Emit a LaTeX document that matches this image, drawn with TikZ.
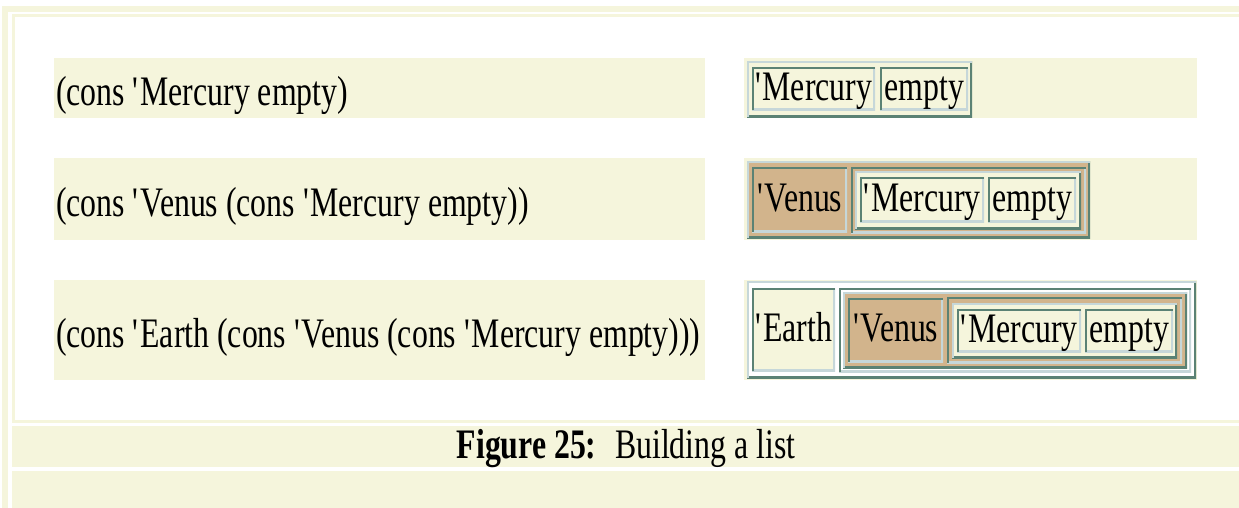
\documentclass[tikz,border=0pt]{standalone}
\usepackage{fontspec}
\setmainfont{Liberation Serif}[FakeStretch=0.757]

\definecolor{beige}{HTML}{F5F5DC}
\definecolor{tan}{HTML}{D2B48C}
\definecolor{rimdark}{HTML}{5B8274}
\definecolor{rimlight}{HTML}{C6D7D9}
\newcommand{\apos}{\textquotesingle}

\begin{document}
\begin{tikzpicture}[
	x=1pt, y=-1pt,
	every node/.style={
		font=\fontsize{42}{48}\selectfont,
		inner sep=0pt,
		text height=30pt,
		text depth=7pt,
		anchor=north west
	},
	sz/.style 2 args={minimum width=#1pt, minimum height=#2pt},
	band/.style={fill=beige},
	inset/.style={path picture={
		\draw[rimlight, line width=4pt] (path picture bounding box.south west) -| (path picture bounding box.north east);
		\draw[rimdark, line width=4pt] (path picture bounding box.south west) |- (path picture bounding box.north east);
	}},
	outset/.style={path picture={
		\draw[rimdark, line width=4pt] (path picture bounding box.south west) -| (path picture bounding box.north east);
		\draw[rimlight, line width=4pt] (path picture bounding box.south west) |- (path picture bounding box.north east);
	}}
	]
	\useasboundingbox (0,0) rectangle (1239,508);
	% page frame
	\fill[beige] (2,6) rectangle (1239,12);
	\fill[beige] (2,6) rectangle (8,508);
	\draw[beige, line width=2.5pt] (1239,15.5) -| (13.25,421.5) -- (1239,421.5);
	\fill[beige] (12,426) rectangle (1239,467);
	\fill[beige] (12,471) rectangle (1239,508);
	\node[anchor=center] (caption) at (626,446.5) {\textbf{Figure 25:}~ Building a list};
	% expressions and backgrounds
	\foreach \rowy/\rowh/\txt [count=\i] in {58/60/{(cons \apos Mercury empty)},
		158/82/{(cons \apos Venus (cons \apos Mercury empty))},
		280/100/{(cons \apos Earth (cons \apos Venus (cons \apos Mercury empty)))}}
	{
		\node[band, sz={651}{\rowh}, text height=41pt, inner xsep=2pt] (expr\i) at (54,\rowy) {\makebox[647pt][l]{\txt}};
		\node[band, sz={453}{\rowh}] (pic\i) at (744,\rowy) {};
	}
	% first list
	\node[outset, fill=beige, sz={225}{56}] (tbl1) at (747,61) {};
	\node[inset, sz={123}{43}] (merc1) at (752,67) {\apos Mercury};
	\node[inset, sz={88}{43}] (empty1) at (880,67) {empty};
	% second list
	\node[outset, fill=tan, sz={343}{77}] (tbl2) at (747,161) {};
	\node[inset, fill=tan, sz={95}{65}] (venus2) at (752,167) {\apos Venus};
	\node[inset, fill=tan, sz={235}{66}] (rest2) at (851,167) {};
	\node[outset, fill=beige, sz={226}{58}] (tbl2b) at (855,171) {};
	\node[inset, sz={124}{45}] (merc2) at (860,177) {\apos Mercury};
	\node[inset, sz={88}{45}] (empty2) at (988,177) {empty};
	% third list
	\node[outset, fill=white, sz={449}{97}] (tbl3) at (747,281) {};
	\node[inset, fill=beige, sz={83}{83}] (earth3) at (752,288) {\apos Earth};
	\node[inset, fill=white, sz={352}{84}] (rest3) at (839,288) {};
	\node[outset, fill=tan, sz={344}{76}] (tbl3b) at (843,292) {};
	\node[inset, fill=tan, sz={95}{64}] (venus3) at (848,298) {\apos Venus};
	\node[inset, fill=tan, sz={235}{66}] (rest3b) at (947,297) {};
	\node[outset, fill=beige, sz={225}{55}] (tbl3c) at (952,303) {};
	\node[inset, sz={124}{43}] (merc3) at (957,309) {\apos Mercury};
	\node[inset, sz={88}{43}] (empty3) at (1085,309) {empty};
\end{tikzpicture}
\end{document}
